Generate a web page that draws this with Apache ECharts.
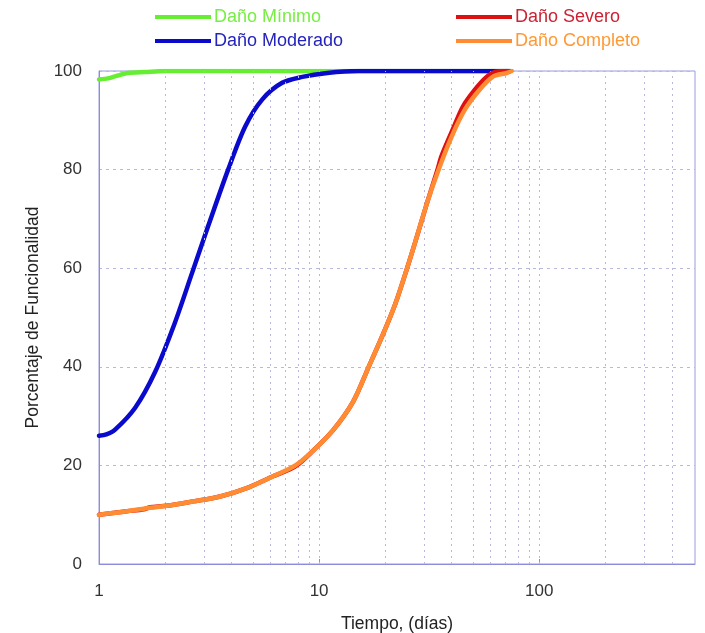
<!DOCTYPE html>
<html>
<head>
<meta charset="utf-8">
<script src="https://cdn.jsdelivr.net/npm/echarts@6/dist/echarts.min.js"></script>
<style>html,body{margin:0;padding:0;background:#fff}#c{width:705px;height:633px}</style>
</head>
<body>
<div id="c"></div>
<script>
const seriesNames = ['Daño Mínimo', 'Daño Moderado', 'Daño Severo', 'Daño Completo'];

const minimoT = [1, 1.1, 1.2, 1.35, 1.62, 2, 3, 5, 10, 20, 50, 74];
const minimoV = [98.3, 98.5, 99.0, 99.6, 99.8, 100, 100, 100, 100, 100, 100, 100];

const moderadoT = [1, 1.08, 1.18, 1.46, 1.8, 2.21, 2.65, 3.13, 3.86, 4.61, 5.51, 6.79, 8.38, 10.9, 15, 30, 74];
const moderadoV = [26.0, 26.3, 27.2, 31.7, 39.0, 48.9, 59.1, 68.5, 80.0, 88.7, 94.2, 97.6, 98.8, 99.6, 100, 100, 100];

const severoT = [1, 1.34, 1.6, 1.7, 2.03, 2.68, 3.55, 4.69, 6.18, 7.8, 9.4, 11.6, 14.3, 16.8, 19.3, 22.2, 25.1, 27.8, 30.9, 34.5, 36.0, 40.8, 45.0, 51.0, 57.0, 63.0, 72.0];
const severoV = [10.0, 10.7, 11.1, 11.5, 11.8, 12.7, 13.7, 15.4, 17.8, 19.8, 23.0, 27.2, 33.0, 40.0, 46.1, 52.8, 60.0, 66.4, 73.2, 80.0, 82.8, 88.5, 92.8, 96.2, 98.6, 99.8, 100];

const completoT = [1, 1.34, 1.7, 2.03, 2.68, 3.55, 4.69, 6.18, 7.8, 9.4, 11.6, 14.3, 16.8, 19.3, 22.2, 25.1, 27.8, 30.9, 34.9, 40.1, 46.0, 53.6, 61.9, 71.2, 75.0];
const completoV = [10.0, 10.7, 11.4, 11.8, 12.7, 13.7, 15.4, 17.8, 20.0, 23.0, 27.2, 33.0, 40.0, 46.1, 52.8, 60.0, 66.4, 73.2, 80.0, 86.8, 92.2, 96.2, 98.9, 99.6, 100];

const yTicks = [0, 20, 40, 60, 80, 100];
const xTickLabels = [1, 10, 100];
const xGridValues = [2, 3, 4, 5, 6, 7, 8, 9, 10, 20, 30, 40, 50, 60, 70, 80, 90, 100, 200, 300, 400];

const lineColors = ['#66ee33', '#0a0acc', '#dd1111', '#ff8c33'];
const textColors = ['#77ee44', '#2424bb', '#cc2233', '#ff9933'];

function pairs(t, v) { return t.map((x, i) => [x, v[i]]); }

const chart = echarts.init(document.getElementById('c'), null, {renderer: 'canvas'});
const font = 'Liberation Sans, Arial, sans-serif';

const dataSets = [pairs(minimoT, minimoV), pairs(moderadoT, moderadoV), pairs(severoT, severoV), pairs(completoT, completoV)];

const series = dataSets.map((d, i) => ({
  name: seriesNames[i],
  type: 'line',
  data: d,
  smooth: 0.3,
  showSymbol: false,
  symbol: 'none',
  lineStyle: {width: 4.5, color: lineColors[i], cap: 'round', join: 'round'},
  itemStyle: {color: lineColors[i]},
  z: 3 + i
}));

series.push({
  name: 'grid',
  type: 'line',
  data: [],
  silent: true,
  markLine: {
    silent: true,
    symbol: ['none', 'none'],
    label: {show: false},
    lineStyle: {color: '#b8b8dc', type: [2, 4], width: 1},
    data: xGridValues.map(v => ({xAxis: v}))
  },
  z: 1
});

chart.setOption({
  animation: false,
  backgroundColor: '#fff',
  grid: {left: 99, right: 10, top: 71, bottom: 69, show: true, borderColor: '#9a9ae0', borderWidth: 1,
    containLabel: false, outerBoundsMode: 'none'},
  legend: [
    {
      left: 150, top: 3, orient: 'vertical', itemGap: 6, itemWidth: 56, itemHeight: 4,
      icon: 'rect',
      data: [
        {name: seriesNames[0], textStyle: {color: textColors[0]}},
        {name: seriesNames[1], textStyle: {color: textColors[1]}}
      ],
      textStyle: {fontSize: 18, fontFamily: font, padding: [0, 0, 0, -2]}
    },
    {
      left: 451, top: 3, orient: 'vertical', itemGap: 6, itemWidth: 56, itemHeight: 4,
      icon: 'rect',
      data: [
        {name: seriesNames[2], textStyle: {color: textColors[2]}},
        {name: seriesNames[3], textStyle: {color: textColors[3]}}
      ],
      textStyle: {fontSize: 18, fontFamily: font, padding: [0, 0, 0, -2]}
    }
  ],
  xAxis: {
    type: 'log',
    logBase: 10,
    min: 1,
    max: 510,
    name: 'Tiempo, (días)',
    nameLocation: 'middle',
    nameGap: 51,
    nameTextStyle: {fontSize: 17.5, color: '#222', fontFamily: font},
    axisLine: {show: true, lineStyle: {color: '#8c8cdc', width: 1}},
    axisTick: {show: true, inside: true, length: 5, lineStyle: {color: '#8c8cdc'}},
    axisLabel: {fontSize: 17, color: '#333', fontFamily: font, margin: 19, showMaxLabel: false,
      formatter: v => (xTickLabels.indexOf(v) >= 0 ? String(v) : '')},
    splitLine: {show: false},
    minorTick: {show: false},
    minorSplitLine: {show: false}
  },
  yAxis: {
    type: 'value',
    min: 0,
    max: 100,
    interval: 20,
    name: 'Porcentaje de Funcionalidad',
    nameLocation: 'middle',
    nameGap: 57,
    nameTextStyle: {fontSize: 17.5, color: '#222', fontFamily: font},
    axisLine: {show: true, lineStyle: {color: '#8c8cdc', width: 1}},
    axisTick: {show: false},
    axisLabel: {fontSize: 17, color: '#333', fontFamily: font, margin: 17,
      formatter: v => (yTicks.indexOf(v) >= 0 ? String(v) : '')},
    splitLine: {show: true, lineStyle: {color: '#b8b8dc', type: [3, 4], width: 1}}
  },
  series: series
});
</script>
</body>
</html>
